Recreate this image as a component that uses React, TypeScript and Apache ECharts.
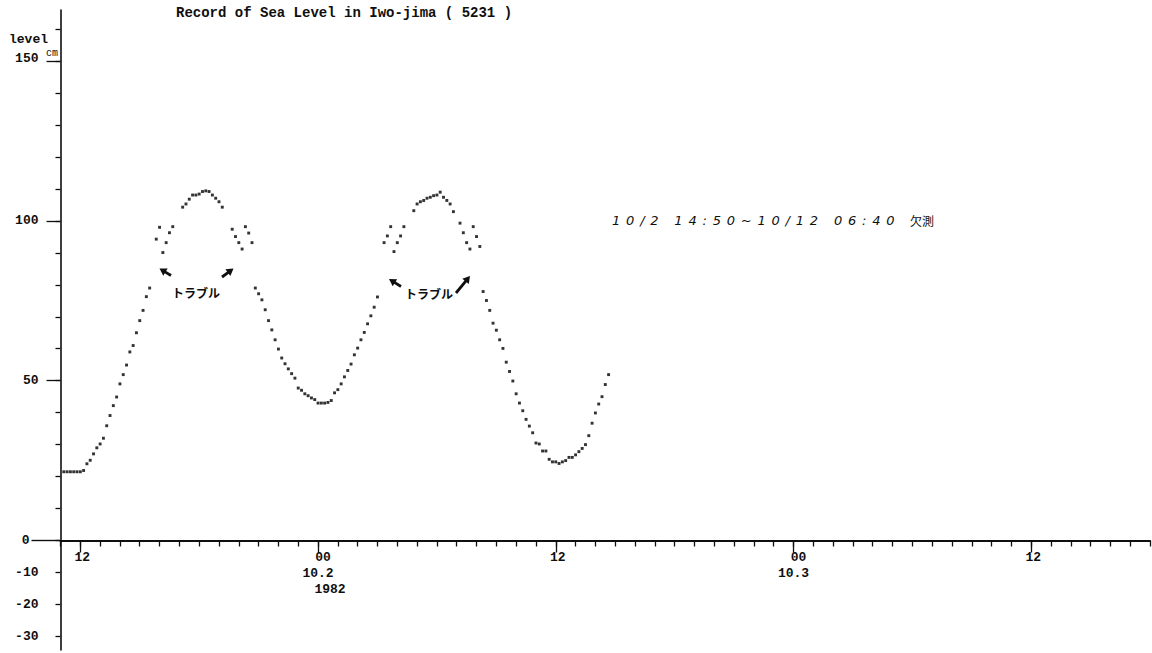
import React, { useEffect, useRef } from "react";
import * as echarts from "echarts";

// ---------- data ----------
const TITLE = "Record of Sea Level in Iwo-jima ( 5231 )";
const Y_NAME = "level";
const Y_UNIT = "cm";
const NOTE_MISSING = "10/2 14:50~10/12 06:40";
const NOTE_MISSING_WORD = "欠測";
const TROUBLE = "トラブル";

// time in hours counted from 10/1 12:00; readings every 10 minutes from 10/1 11:10
const START_HOUR = -50 / 60;
const STEP_HOURS = 10 / 60;

// sea level (cm), one reading per 10 minutes, null = no dot
const LEVELS: (number | null)[] = [
  21.5, 21.5, 21.5, 21.5, 21.5, 21.5, 21.9, 24.0, 25.1, 27.1,
  29.0, 30.2, 32.0, 35.9, 39.1, 42.2, 44.9, 49.0, 51.9, 54.9,
  59.0, 61.0, 65.0, 68.8, 72.0, 76.3, 79.0, null, 94.3, 98.0,
  90.1, 93.2, 96.3, 98.2, null, null, 104.3, 105.3, 106.8, 108.1,
  108.1, 108.4, 109.2, 109.4, 109.2, 108.1, 107.1, 106.0, 104.3, null,
  null, 97.4, 95.1, 93.2, 91.2, 98.2, 96.2, 93.2, 79.0, 77.2,
  75.3, 72.2, 68.8, 65.9, 62.8, 59.9, 57.1, 55.3, 53.7, 52.2,
  50.8, 47.7, 47.0, 45.9, 45.3, 44.6, 44.1, 43.0, 43.0, 43.0,
  43.2, 43.8, 46.2, 47.2, 49.0, 51.2, 53.2, 55.2, 58.1, 60.2,
  62.8, 65.1, 67.8, 70.3, 73.0, 76.2, null, 93.2, 95.3, 98.2,
  90.4, 93.2, 95.3, 98.2, null, null, 103.2, 105.3, 106.0, 106.4,
  107.1, 107.4, 107.9, 108.1, 109.0, 107.4, 106.4, 105.3, 102.9, null,
  99.3, 96.3, 93.2, 91.2, 98.2, 95.1, 92.0, 77.9, 75.1, 72.0,
  68.0, 65.8, 62.8, 60.1, 55.8, 52.9, 49.9, 45.9, 43.0, 40.6,
  37.9, 35.8, 33.7, 30.5, 30.2, 28.0, 28.0, 25.4, 24.6, 24.6,
  24.1, 24.6, 25.0, 26.0, 26.0, 26.8, 27.8, 28.8, 30.0, 32.8,
  36.7, 39.9, 42.7, 45.0, 48.8, 51.9,
];

const X_MIN = -1;
const X_MAX = 54;
const X_MAJOR = [0, 12, 24, 36, 48];
const X_MAJOR_LABELS = ["12", "00\n10.2\n1982", "12", "00\n10.3", "12"];

const Y_MIN = -34.27;
const Y_MAX = 166;
const Y_MINOR = [-30, -20, -10, 0, 10, 20, 30, 40, 50, 60, 70, 80, 90, 100, 110, 120, 130, 140, 150, 160];
const Y_MAJOR = [50, 100, 150];
const Y_LABELS = [150, 100, 50, -10, -20, -30];
const Y_ZERO = [0];

// ---------- layout ----------
const W = 1152;
const H = 653;
const GRID_LEFT = 60.5;
const GRID_RIGHT = 1.9;
const GRID_TOP = 10;
const GRID_BOTTOM = 3;

const INK = "#0f0f0f";
const MONO = "'Liberation Mono', 'DejaVu Sans Mono', monospace";
const CJK = "'Noto Sans CJK JP', sans-serif";

function arrow(x1: number, y1: number, x2: number, y2: number) {
  const dx = x2 - x1;
  const dy = y2 - y1;
  const len = Math.hypot(dx, dy);
  const ux = dx / len;
  const uy = dy / len;
  const px = -uy;
  const py = ux;
  const hl = 7;
  const hw = 4.2;
  const bx = x2 - ux * hl;
  const by = y2 - uy * hl;
  return [
    {
      type: "line",
      shape: { x1, y1, x2: bx + ux, y2: by + uy },
      style: { stroke: INK, lineWidth: 2.8 },
      silent: true,
    },
    {
      type: "polygon",
      shape: {
        points: [
          [x2, y2],
          [bx + px * hw, by + py * hw],
          [bx - px * hw, by - py * hw],
        ],
      },
      style: { fill: INK },
      silent: true,
    },
  ];
}

function xLabel(value: number) {
  const i = X_MAJOR.indexOf(value);
  if (i < 0) return "";
  const lines = X_MAJOR_LABELS[i].split("\n");
  return lines
    .map((ln, j) => {
      if (j === 0) return ln === "00" ? `{h|${ln}}` : `{t|${ln}}`;
      if (j === 1) return `{d|${ln}}`;
      return `{y|${ln}}`;
    })
    .join("\n");
}

const labelFont = {
  fontFamily: MONO,
  fontSize: 13,
  fontWeight: "bold" as const,
  color: INK,
  lineHeight: 16,
};

export default function App() {
  const ref = useRef<HTMLDivElement>(null);

  useEffect(() => {
    if (!ref.current) return;
    const chart = echarts.init(ref.current, null, { renderer: "svg" });

    const data = LEVELS.map((v, k) => (v == null ? null : [START_HOUR + k * STEP_HOURS, v])).filter(
      (d) => d != null
    );

    const gridH = H - GRID_TOP - GRID_BOTTOM;
    // distance from grid bottom to the zero line, used to lift the second x axis onto y = 0
    const zeroOffset = -((0 - Y_MIN) * gridH) / (Y_MAX - Y_MIN);

    const axisBaseY = {
      type: "value",
      min: Y_MIN,
      max: Y_MAX,
      position: "left",
      splitLine: { show: false },
    };
    const axisBaseX = {
      type: "value",
      min: X_MIN,
      max: X_MAX,
      position: "bottom",
      splitLine: { show: false },
    };

    const option: any = {
      animation: false,
      backgroundColor: "#ffffff",
      title: {
        text: TITLE,
        left: 176,
        top: 6,
        padding: 0,
        textStyle: { fontFamily: MONO, fontSize: 14, fontWeight: "bold", color: INK },
      },
      grid: {
        left: GRID_LEFT,
        right: GRID_RIGHT,
        top: GRID_TOP,
        bottom: GRID_BOTTOM,
        containLabel: false,
        outerBoundsMode: "none",
      },
      xAxis: [
        {
          ...axisBaseX,
          interval: 1,
          axisLine: { show: true, onZero: true, lineStyle: { color: INK, width: 1.8 } },
          axisTick: { show: true, length: 6, lineStyle: { color: INK, width: 1.3 } },
          axisLabel: { show: false },
        },
        {
          ...axisBaseX,
          offset: zeroOffset,
          axisLine: { show: false, onZero: false },
          axisTick: { show: true, customValues: X_MAJOR, length: 12, lineStyle: { color: INK, width: 1.3 } },
          axisLabel: {
            show: true,
            customValues: X_MAJOR,
            margin: 9,
            formatter: (v: number) => xLabel(v),
            ...labelFont,
            rich: {
              t: { ...labelFont, padding: [0, 0, 0, 4] },
              h: { ...labelFont, padding: [0, 0, 0, 10] },
              d: { ...labelFont },
              y: { ...labelFont, padding: [0, 0, 0, 24] },
            },
          },
        },
      ],
      yAxis: [
        {
          ...axisBaseY,
          axisLine: { show: true, onZero: false, lineStyle: { color: INK, width: 1.6 } },
          axisTick: { show: true, customValues: Y_MINOR, length: 5, lineStyle: { color: INK, width: 1.3 } },
          axisLabel: {
            show: true,
            customValues: Y_LABELS,
            margin: 22,
            formatter: (v: number) => (v === 150 ? `{u|${v}}` : `${v}`),
            ...labelFont,
            rich: { u: { ...labelFont, padding: [0, 0, 6, 0] } },
          },
        },
        {
          ...axisBaseY,
          axisLine: { show: false, onZero: false },
          axisTick: { show: true, customValues: Y_MAJOR, length: 14, lineStyle: { color: INK, width: 1.3 } },
          axisLabel: { show: false },
        },
        {
          ...axisBaseY,
          axisLine: { show: false, onZero: false },
          axisTick: { show: true, customValues: Y_ZERO, length: 29, lineStyle: { color: INK, width: 1.4 } },
          axisLabel: {
            show: true,
            customValues: Y_ZERO,
            margin: 31,
            ...labelFont,
          },
        },
      ],
      series: [
        {
          type: "scatter",
          xAxisIndex: 0,
          yAxisIndex: 0,
          data,
          symbol: "rect",
          symbolSize: 2.9,
          itemStyle: { color: "#000000" },
          silent: true,
        },
      ],
      graphic: [
        {
          type: "text",
          x: 9,
          y: 39,
          style: { text: Y_NAME, font: `bold 13px ${MONO}`, fill: INK, verticalAlign: "middle" },
          silent: true,
        },
        {
          type: "text",
          x: 46,
          y: 53,
          style: { text: Y_UNIT, font: `10px ${MONO}`, fill: INK, verticalAlign: "middle" },
          silent: true,
        },
        {
          type: "text",
          x: 612,
          y: 220,
          style: {
            text: NOTE_MISSING,
            font: `italic 13px 'DejaVu Sans', sans-serif`,
            fill: INK,
            verticalAlign: "middle",
          },
          silent: true,
        },
        {
          type: "text",
          x: 910,
          y: 220,
          style: { text: NOTE_MISSING_WORD, font: `12px ${CJK}`, fill: INK, verticalAlign: "middle" },
          silent: true,
        },
        {
          type: "text",
          x: 172,
          y: 292,
          style: { text: TROUBLE, font: `bold 12px ${CJK}`, fill: INK, verticalAlign: "middle" },
          silent: true,
        },
        {
          type: "text",
          x: 405,
          y: 293,
          style: { text: TROUBLE, font: `bold 12px ${CJK}`, fill: INK, verticalAlign: "middle" },
          silent: true,
        },
        ...arrow(171, 275.5, 159.5, 268.5),
        ...arrow(222, 277, 233.5, 268.5),
        ...arrow(401, 286.5, 389, 279),
        ...arrow(456, 293, 470, 276),
      ],
    };

    chart.setOption(option);

    const spaceNote = () => {
      const el = ref.current;
      if (!el) return;
      el.querySelectorAll("text").forEach((t) => {
        if ((t.textContent || "").indexOf("14:50") >= 0) t.setAttribute("letter-spacing", "5.8");
      });
    };
    spaceNote();
    chart.on("finished", spaceNote);
    const timer = window.setTimeout(spaceNote, 50);

    return () => {
      window.clearTimeout(timer);
      chart.dispose();
    };
  }, []);

  return (
    <div
      ref={ref}
      style={{ position: "absolute", left: 0, top: 0, width: W, height: H, background: "#fff" }}
    />
  );
}
